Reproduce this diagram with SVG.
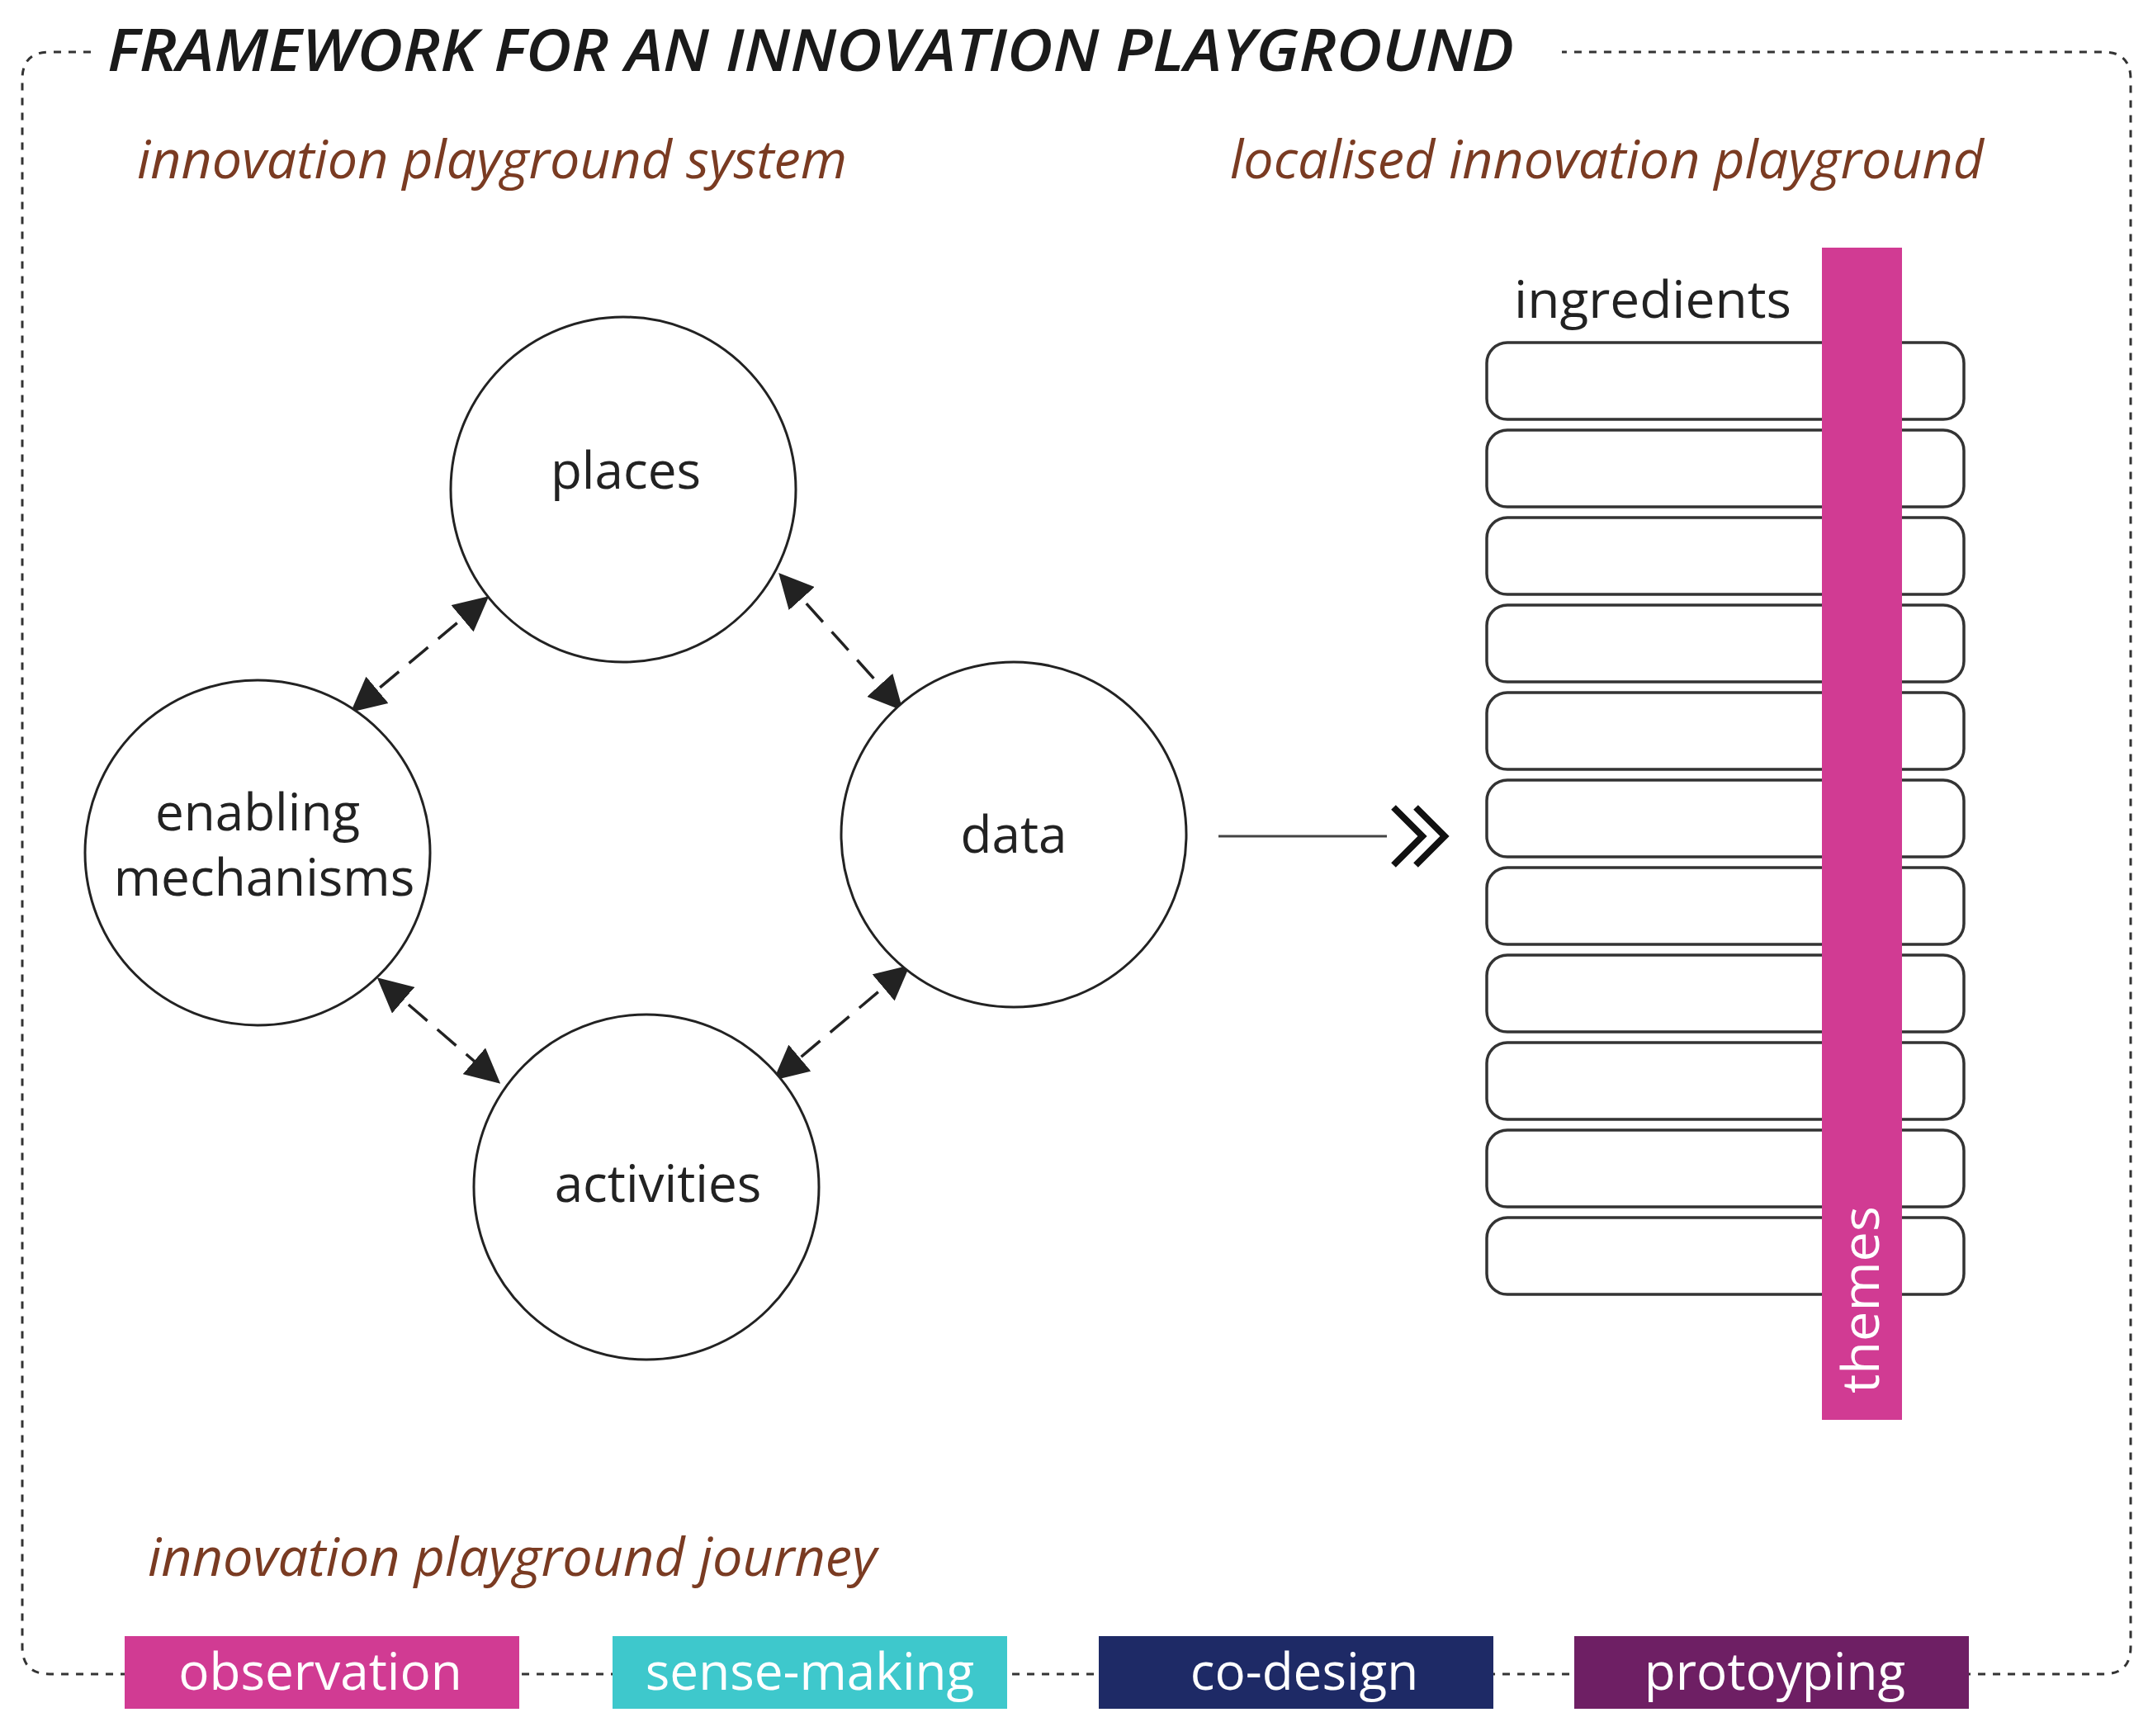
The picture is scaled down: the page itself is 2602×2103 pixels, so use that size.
<svg xmlns="http://www.w3.org/2000/svg" width="2602" height="2103" viewBox="0 0 2602 2103">
<style>
.c{fill:#fff;stroke:#222;stroke-width:3}
.t{font-family:"Open Sans","DejaVu Sans",sans-serif;fill:#222;font-size:62px}
.s{font-family:"Open Sans","DejaVu Sans",sans-serif;font-style:italic;fill:#7a3b22;font-size:64px}
.w{font-family:"Open Sans","DejaVu Sans",sans-serif;fill:#fff;font-size:62px}
.ing{fill:#fff;stroke:#333;stroke-width:3.5}
.da{stroke:#222;stroke-width:3.5;stroke-dasharray:30 16;fill:none}
</style>
<defs>
<marker id="ah2" viewBox="0 0 10 10" refX="9" refY="5" markerWidth="12" markerHeight="12" orient="auto-start-reverse"><path d="M0,0L10,5L0,10z" fill="#222"/></marker>
</defs>
<rect width="2602" height="2103" fill="#fff"/>
<g id="frame">
<path d="M110,63 H60 Q27,63 27,96 V1995 Q27,2028 60,2028 H2548 Q2581,2028 2581,1995 V96 Q2581,63 2548,63 H1892" fill="none" stroke="#333" stroke-width="3" stroke-dasharray="9 9"/>
<text x="130" y="86" font-family="'Open Sans','DejaVu Sans',sans-serif" font-style="italic" font-weight="600" font-size="70" fill="#1a1a1a" textLength="1704" lengthAdjust="spacingAndGlyphs">FRAMEWORK FOR AN INNOVATION PLAYGROUND</text>
<text class="s" x="166" y="216" textLength="860" lengthAdjust="spacingAndGlyphs">innovation playground system</text>
<text class="s" x="1490" y="216" textLength="913" lengthAdjust="spacingAndGlyphs">localised innovation playground</text>
<text class="s" x="179" y="1909" textLength="883" lengthAdjust="spacingAndGlyphs">innovation playground journey</text>
</g>
<g id="connectors">
<line class="da" x1="589" y1="725" x2="428" y2="860" marker-start="url(#ah2)" marker-end="url(#ah2)"/>
<line class="da" x1="946" y1="697" x2="1091" y2="858" marker-start="url(#ah2)" marker-end="url(#ah2)"/>
<line class="da" x1="460" y1="1187" x2="603" y2="1310" marker-start="url(#ah2)" marker-end="url(#ah2)"/>
<line class="da" x1="1099" y1="1172" x2="940" y2="1306" marker-start="url(#ah2)" marker-end="url(#ah2)"/>
<line x1="1476" y1="1013" x2="1680" y2="1013" stroke="#444" stroke-width="3"/>
<path d="M1688,978 L1723,1013 L1688,1048 M1715,978 L1750,1013 L1715,1048" fill="none" stroke="#111" stroke-width="8"/>
</g>
<g id="places"><circle class="c" cx="755" cy="593" r="209"/><text class="t" x="758" y="592" text-anchor="middle">places</text></g>
<g id="enabling"><circle class="c" cx="312" cy="1033" r="209"/><text class="t" x="312" y="1006" text-anchor="middle" font-size="60">enabling</text><text class="t" x="320" y="1085" text-anchor="middle" font-size="60">mechanisms</text></g>
<g id="data"><circle class="c" cx="1228" cy="1011" r="209"/><text class="t" x="1228" y="1033" text-anchor="middle">data</text></g>
<g id="activities"><circle class="c" cx="783" cy="1438" r="209"/><text class="t" x="797" y="1456" text-anchor="middle">activities</text></g>
<g id="ingredients">
<text class="t" x="1834" y="385" textLength="336" lengthAdjust="spacingAndGlyphs">ingredients</text>
<rect class="ing" x="1801" y="415" width="578" height="93" rx="25"/>
<rect class="ing" x="1801" y="521" width="578" height="93" rx="25"/>
<rect class="ing" x="1801" y="627" width="578" height="93" rx="25"/>
<rect class="ing" x="1801" y="733" width="578" height="93" rx="25"/>
<rect class="ing" x="1801" y="839" width="578" height="93" rx="25"/>
<rect class="ing" x="1801" y="945" width="578" height="93" rx="25"/>
<rect class="ing" x="1801" y="1051" width="578" height="93" rx="25"/>
<rect class="ing" x="1801" y="1157" width="578" height="93" rx="25"/>
<rect class="ing" x="1801" y="1263" width="578" height="93" rx="25"/>
<rect class="ing" x="1801" y="1369" width="578" height="93" rx="25"/>
<rect class="ing" x="1801" y="1475" width="578" height="93" rx="25"/>
</g>
<g id="themes"><rect x="2207" y="300" width="97" height="1420" fill="#d13b93"/><text class="w" transform="translate(2276,1688) rotate(-90)" textLength="227" lengthAdjust="spacingAndGlyphs">themes</text></g>
<g id="observation"><rect x="151" y="1982" width="478" height="88" fill="#d13b93"/><text class="w" x="388" y="2047" text-anchor="middle">observation</text></g>
<g id="sense-making"><rect x="742" y="1982" width="478" height="88" fill="#3ec8cc"/><text class="w" x="981" y="2047" text-anchor="middle">sense-making</text></g>
<g id="co-design"><rect x="1331" y="1982" width="478" height="88" fill="#1e2a66"/><text class="w" x="1580" y="2047" text-anchor="middle">co-design</text></g>
<g id="protoyping"><rect x="1907" y="1982" width="478" height="88" fill="#6e1f64"/><text class="w" x="2150" y="2047" text-anchor="middle">protoyping</text></g>
</svg>
